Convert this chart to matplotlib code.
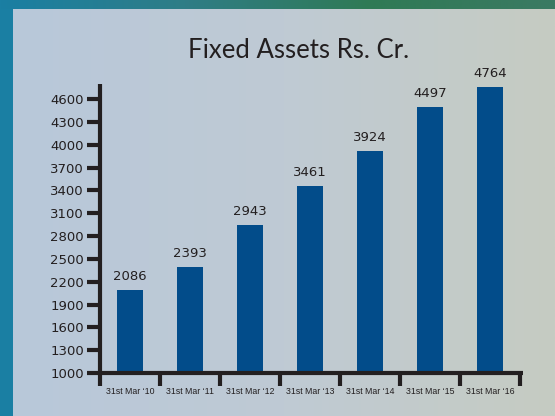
import numpy as np
import matplotlib.pyplot as plt
from matplotlib.patches import Rectangle
from matplotlib.colors import LinearSegmentedColormap

# data
years = ["31st Mar \u201810", "31st Mar \u201811", "31st Mar \u201812", "31st Mar \u201813",
         "31st Mar \u201814", "31st Mar \u201815", "31st Mar \u201816"]
assets = [2086, 2393, 2943, 3461, 3924, 4497, 4764]
yticks = [1000, 1300, 1600, 1900, 2200, 2500, 2800, 3100, 3400, 3700, 4000, 4300, 4600]

dark = '#231f20'
bar_col = '#024c8a'

fig = plt.figure(figsize=(5.55, 4.16), dpi=100)

# background: teal frame + light gradient panel
bg = fig.add_axes([0, 0, 1, 1], zorder=-10)
bg.set_axis_off()
bg.set_xlim(0, 555)
bg.set_ylim(416, 0)
bg.add_patch(Rectangle((0, 0), 555, 416, color='#1a7fa3'))
top = LinearSegmentedColormap.from_list('top', ['#1a7fa3', '#2f7d86', '#2f7a55', '#3b7a63'])
bg.imshow(np.linspace(0, 1, 256)[None, :], cmap=top, aspect='auto',
          extent=(0, 555, 9, 0), zorder=1)
cmap = LinearSegmentedColormap.from_list('panel', ['#b8c8da', '#bfcad4', '#c6ccc2'])
bg.imshow(np.linspace(0, 1, 256)[None, :], cmap=cmap, aspect='auto',
          extent=(13, 555, 416, 9), zorder=1)

ax = fig.add_axes([100 / 555, 43 / 416, 423 / 555, 289 / 416])
ax.patch.set_alpha(0)

x = np.arange(len(years))
ax.bar(x, assets, width=0.43, bottom=0, color=bar_col, zorder=2)
for xi, v in zip(x, assets):
    ax.annotate(str(v), (xi, v), xytext=(0, 5), textcoords='offset points',
                ha='center', va='bottom', fontsize=9.5, color=dark,
                family='DejaVu Sans')

ax.set_xlim(-0.5, 6.55)
ax.set_ylim(1000, 4800)

for s in ['top', 'right']:
    ax.spines[s].set_visible(False)
for s in ['left', 'bottom']:
    ax.spines[s].set_linewidth(3)
    ax.spines[s].set_color(dark)
    ax.spines[s].set_capstyle('butt')

ax.set_yticks(yticks)
ax.set_yticklabels([str(t) for t in yticks], fontsize=9.5, color=dark,
                   family='DejaVu Sans')
ax.tick_params(axis='y', length=9.5, width=3, color=dark, pad=2)

# x: ticks at category boundaries, labels centered
ax.set_xticks(np.arange(-0.5, 7, 1), minor=False)
ax.set_xticklabels([])
ax.tick_params(axis='x', which='major', length=9, width=3, color=dark)
ax.set_xticks(x, minor=True)
ax.set_xticklabels(years, minor=True, fontsize=6.3,
                   family='Liberation Sans', color=dark)
ax.tick_params(axis='x', which='minor', length=0, pad=10)

fig.text(299 / 555, 1 - 51 / 416, "Fixed Assets Rs. Cr.", ha='center', va='center',
         fontsize=18.5, color=dark, family='Lato')

fig.savefig('out.png', dpi=100)
